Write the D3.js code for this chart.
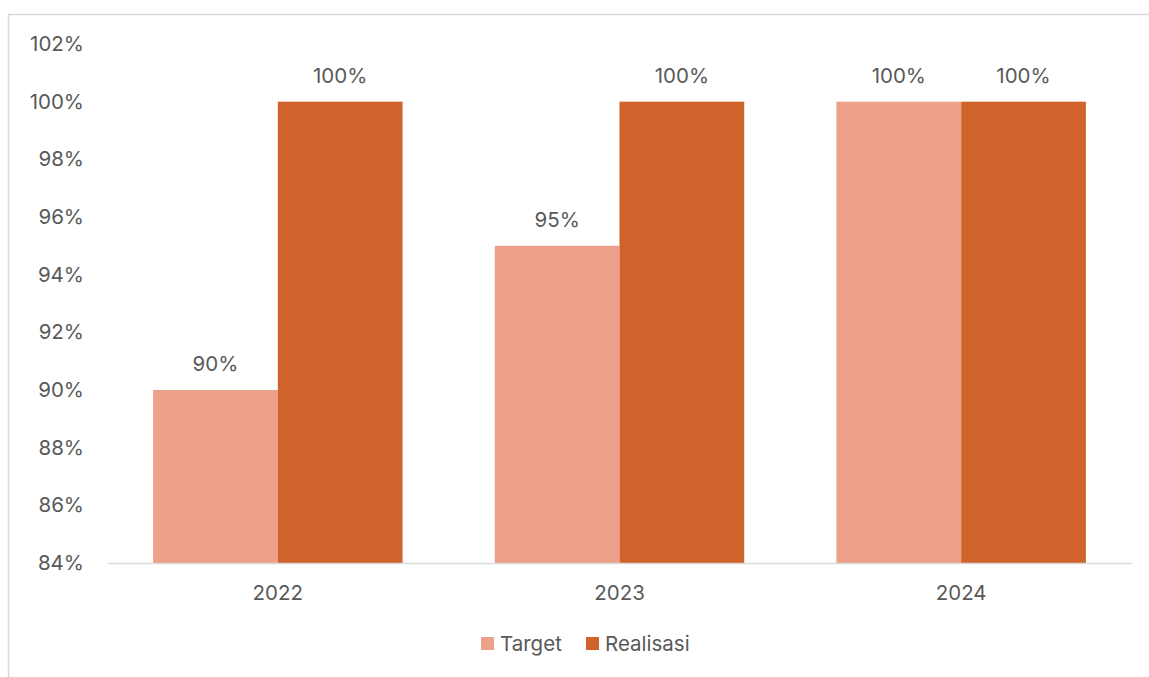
<!DOCTYPE html>
<html lang="id">
<head>
<meta charset="UTF-8" />
<title>Target vs Realisasi</title>
<script src="https://cdn.jsdelivr.net/npm/d3@7"></script>
<style>
  body { margin: 0; background: #fff; }
  text { font-family: "Inter", "Noto Sans", sans-serif; fill: #595959; }
</style>
</head>
<body>
<script>
// chart data
var years = ["2022", "2023", "2024"];
var target = [0.90, 0.95, 1.00];
var realisasi = [1.00, 1.00, 1.00];
var seriesNames = ["Target", "Realisasi"];
var yTicks = [0.84, 0.86, 0.88, 0.90, 0.92, 0.94, 0.96, 0.98, 1.00, 1.02];

var w = 1149, h = 677;
var margin = { top: 44, right: 17, bottom: 114, left: 107 };
var colors = ["#eda08a", "#d0632c"];
var fs = 20.5;

var svg = d3.select("body").append("svg")
  .attr("width", w).attr("height", h);

// chart border
svg.append("rect")
  .attr("x", 8.5).attr("y", 14.5)
  .attr("width", w).attr("height", h)
  .attr("fill", "none").attr("stroke", "#d9d9d9").attr("stroke-width", 1.5);

var g = svg.append("g").attr("transform", "translate(" + margin.left + "," + margin.top + ")");
var iw = w - margin.left - margin.right, ih = h - margin.top - margin.bottom;

var x0 = d3.scaleBand().domain(years).range([0, iw]).paddingInner(0.27).paddingOuter(0.135);
var x1 = d3.scaleBand().domain(seriesNames).range([0, x0.bandwidth()]);
var y = d3.scaleLinear().domain([0.84, 1.02]).range([ih, 0]);

var rows = years.map(function(yr, i) {
  return { year: yr, vals: [target[i], realisasi[i]] };
});

// y axis labels
var yAxis = d3.axisLeft(y).tickValues(yTicks).tickFormat(d3.format(".0%")).tickSize(0).tickPadding(23);
g.append("g").call(yAxis)
  .call(function(s) { s.select(".domain").remove(); })
  .selectAll("text").attr("font-size", fs).attr("fill", "#595959");

// bars
var groups = g.selectAll(".yr").data(rows).enter().append("g")
  .attr("transform", function(d) { return "translate(" + x0(d.year) + ",0)"; });

groups.selectAll("rect").data(function(d) { return d.vals; }).enter().append("rect")
  .attr("x", function(d, i) { return x1(seriesNames[i]); })
  .attr("y", function(d) { return y(d); })
  .attr("width", x1.bandwidth())
  .attr("height", function(d) { return ih - y(d); })
  .attr("fill", function(d, i) { return colors[i]; });

groups.selectAll("text.lbl").data(function(d) { return d.vals; }).enter().append("text")
  .attr("class", "lbl")
  .attr("x", function(d, i) { return x1(seriesNames[i]) + x1.bandwidth() / 2; })
  .attr("y", function(d) { return y(d) - 19; })
  .attr("text-anchor", "middle")
  .attr("font-size", fs)
  .text(function(d) { return d3.format(".0%")(d); });

// x axis
var xAxis = d3.axisBottom(x0).tickSize(0).tickPadding(22);
g.append("g").attr("transform", "translate(0," + ih + ")").call(xAxis)
  .call(function(s) {
    s.select(".domain").attr("stroke", "#d9d9d9").attr("stroke-width", 1.5);
  })
  .selectAll("text").attr("font-size", fs).attr("fill", "#595959");

// legend
var legend = svg.append("g").attr("transform", "translate(481,637)");
var lx = [0, 105];
seriesNames.forEach(function(name, i) {
  legend.append("rect").attr("x", lx[i]).attr("y", 0).attr("width", 13).attr("height", 13).attr("fill", colors[i]);
  legend.append("text").attr("x", lx[i] + 19).attr("y", 7).attr("dy", "0.35em")
    .attr("font-size", fs).text(name);
});
</script>
</body>
</html>
